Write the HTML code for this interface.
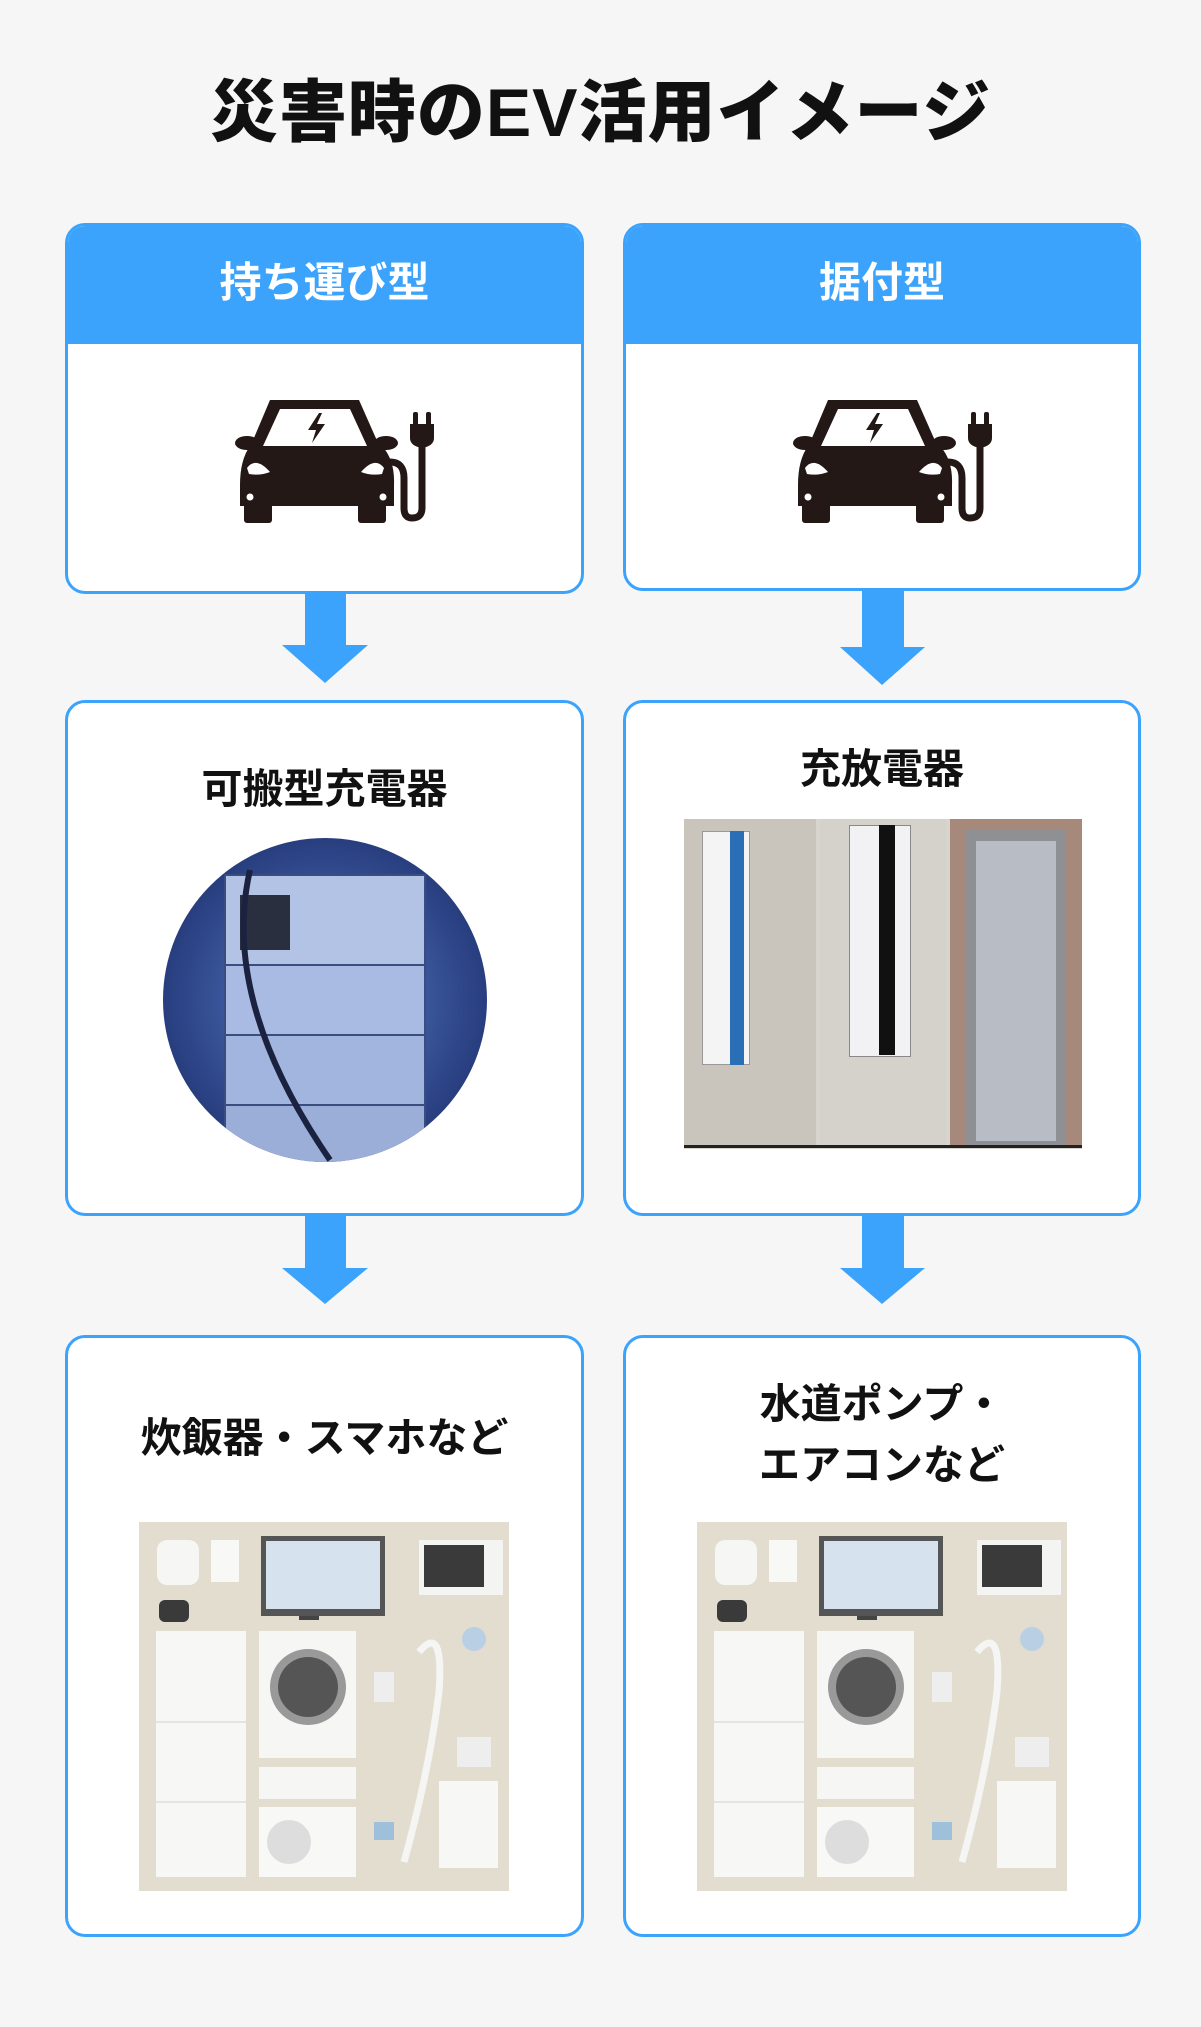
<!DOCTYPE html>
<html><head><meta charset="utf-8"><style>
*{margin:0;padding:0;box-sizing:border-box}
body{width:1201px;height:2027px;background:#f6f6f6;position:relative;overflow:hidden;font-family:"Liberation Sans","Noto Sans CJK JP",sans-serif;font-weight:bold;color:#111}
.abs{position:absolute}
.box{position:absolute;background:#fff;border:3px solid #3ba3fc;border-radius:20px;overflow:hidden}
.hdr{position:absolute;left:0;top:0;right:0;height:118px;background:#3ba3fc;color:#fff;font-size:42px;text-align:center;line-height:114px}
.t{position:absolute;left:0;right:0;text-align:center;font-size:41px;line-height:60px}
.title{position:absolute;left:0;width:1201px;top:68px;text-align:center;font-size:68px;letter-spacing:1px;line-height:90px;font-weight:900}
</style></head><body>
<div class="title">災害時のEV活用イメージ</div>

<div class="box" style="left:65px;top:223px;width:519px;height:371px"><div class="hdr">持ち運び型</div></div>
<div class="box" style="left:623px;top:223px;width:518px;height:368px"><div class="hdr">据付型</div></div>

<svg class="abs" style="left:0;top:0" width="1201" height="2027">
<defs>
<g id="car">
<path d="M50 10 H139 L162 62 H28 Z" fill="#231815"/>
<path d="M60 19 H130 L147 56 H43 Z" fill="#fff"/>
<path d="M99 23 L88 40 H96 L92 53 L105 34 H97 L102 23Z" fill="#231815"/>
<ellipse cx="27" cy="53" rx="12" ry="7" fill="#231815"/>
<ellipse cx="166" cy="53" rx="12" ry="7" fill="#231815"/>
<path d="M30 56 H162 Q175 70 174 95 V116 H20 V95 Q20 70 30 56Z" fill="#231815"/>
<rect x="24" y="105" width="28" height="28" rx="3" fill="#231815"/>
<rect x="138" y="105" width="28" height="28" rx="3" fill="#231815"/>
<path d="M27 78 Q36 66 50 82 Q40 86 29 84Z" fill="#fff"/>
<path d="M164 78 Q155 66 141 82 Q151 86 162 84Z" fill="#fff"/>
<circle cx="30" cy="107" r="3.5" fill="#fff"/>
<circle cx="163" cy="107" r="3.5" fill="#fff"/>
<path d="M170 72 Q184 72 184 88 V118 Q184 128 192 128 Q202 128 202 118 V55" fill="none" stroke="#231815" stroke-width="7"/>
<path d="M190 34 H214 V48 Q214 56 202 58 Q190 56 190 48Z" fill="#231815"/>
<rect x="193" y="22" width="5" height="14" rx="2" fill="#231815"/>
<rect x="206" y="22" width="5" height="14" rx="2" fill="#231815"/>
</g>
<clipPath id="cc"><ellipse cx="325" cy="1000" rx="162" ry="162"/></clipPath>
<radialGradient id="bg1" cx="0.5" cy="0.5" r="0.6"><stop offset="0" stop-color="#5a7ec8"/><stop offset="1" stop-color="#1c2f6e"/></radialGradient>
</defs>
<use href="#car" x="220" y="390"/>
<use href="#car" x="778" y="390"/>
<g fill="#3ba3fc">
<rect x="305" y="594" width="41" height="52"/><polygon points="282,645 368,645 325,683"/>
<rect x="862" y="590" width="42" height="58"/><polygon points="840,647 925,647 882,685"/>
<rect x="305" y="1215" width="41" height="54"/><polygon points="282,1268 368,1268 325,1304"/>
<rect x="862" y="1215" width="42" height="54"/><polygon points="840,1268 925,1268 882,1304"/>
</g>
</svg>

<div class="box" style="left:65px;top:700px;width:519px;height:516px"><div class="t" style="top:56px">可搬型充電器</div></div>
<div class="box" style="left:623px;top:700px;width:518px;height:516px"><div class="t" style="top:36px">充放電器</div>
<div class="abs" style="left:58px;top:116px;width:398px;height:330px;background:#d8d5cf">
 <div class="abs" style="left:0;top:0;width:132px;height:328px;background:#c9c5bd"></div>
 <div class="abs" style="left:18px;top:12px;width:48px;height:234px;background:#f4f4f4;border:1px solid #999"></div>
 <div class="abs" style="left:46px;top:12px;width:14px;height:234px;background:#2a6fb5"></div>
 <div class="abs" style="left:136px;top:0;width:126px;height:328px;background:#d5d2cc"></div>
 <div class="abs" style="left:165px;top:6px;width:62px;height:232px;background:#f2f2f4;border:1px solid #888"></div>
 <div class="abs" style="left:195px;top:6px;width:16px;height:230px;background:#111"></div>
 <div class="abs" style="left:266px;top:0;width:132px;height:328px;background:#a6897a"></div>
 <div class="abs" style="left:282px;top:10px;width:100px;height:318px;background:#8e9094"></div>
 <div class="abs" style="left:292px;top:22px;width:80px;height:300px;background:#b8bcc4"></div>
 <div class="abs" style="left:0;top:326px;width:398px;height:3px;background:#222"></div>
</div></div>

<svg class="abs" style="left:0;top:0" width="1201" height="2027">
<g clip-path="url(#cc)">
<rect x="160" y="835" width="330" height="330" fill="url(#bg1)"/>
<rect x="225" y="875" width="200" height="90" fill="#b3c3e6" stroke="#3a4d80" stroke-width="2"/>
<rect x="225" y="965" width="200" height="70" fill="#a9bbe2" stroke="#3a4d80" stroke-width="2"/>
<rect x="225" y="1035" width="200" height="70" fill="#a2b5de" stroke="#3a4d80" stroke-width="2"/>
<rect x="225" y="1105" width="200" height="60" fill="#9aaed8" stroke="#3a4d80" stroke-width="2"/>
<rect x="240" y="895" width="50" height="55" fill="#2a2f40"/>
<path d="M250 870 Q220 1000 330 1160" fill="none" stroke="#1a2240" stroke-width="6"/>
</g>
</svg>

<div class="box" style="left:65px;top:1335px;width:519px;height:602px"><div class="t" style="top:70px">炊飯器・スマホなど</div></div>
<div class="box" style="left:623px;top:1335px;width:518px;height:602px"><div class="t" style="top:36px;line-height:61px">水道ポンプ・<br>エアコンなど</div></div>

<svg class="abs" style="left:0;top:0" width="1201" height="2027">
<defs>
<clipPath id="ac"><rect x="0" y="0" width="370" height="369"/></clipPath>
<g id="app" clip-path="url(#ac)">
<rect x="0" y="0" width="370" height="369" fill="#e2ddcf"/>
<rect x="18" y="18" width="42" height="45" rx="10" fill="#f6f6f4"/>
<rect x="72" y="18" width="28" height="42" fill="#f8f8f6"/>
<rect x="122" y="14" width="124" height="80" fill="#555"/>
<rect x="127" y="19" width="114" height="68" fill="#d6e2ee"/>
<rect x="280" y="18" width="84" height="55" fill="#f4f4f2"/>
<rect x="285" y="23" width="60" height="42" fill="#3a3a3a"/>
<rect x="20" y="78" width="30" height="22" rx="6" fill="#3a3a3a"/>
<rect x="160" y="94" width="20" height="4" fill="#444"/>
<rect x="17" y="109" width="90" height="246" fill="#f7f7f5"/>
<line x1="17" y1="200" x2="107" y2="200" stroke="#e4e4e0" stroke-width="2"/>
<line x1="17" y1="280" x2="107" y2="280" stroke="#e4e4e0" stroke-width="2"/>
<rect x="120" y="109" width="97" height="127" fill="#f6f6f4"/>
<circle cx="169" cy="165" r="38" fill="#999"/><circle cx="169" cy="165" r="30" fill="#555"/>
<rect x="120" y="245" width="97" height="32" fill="#f6f6f4"/>
<rect x="120" y="285" width="97" height="70" fill="#f8f8f6"/>
<circle cx="150" cy="320" r="22" fill="#ddd"/>
<path d="M265 340 Q290 250 300 170 Q305 100 280 130" fill="none" stroke="#f5f5f3" stroke-width="7"/>
<rect x="300" y="259" width="59" height="87" fill="#f7f7f5"/>
<rect x="318" y="215" width="34" height="30" fill="#eee"/>
<circle cx="335" cy="117" r="12" fill="#b9d0e4"/>
<rect x="235" y="150" width="20" height="30" fill="#eee"/>
<rect x="235" y="300" width="20" height="18" fill="#9fc0da"/>
</g>
</defs>
<use href="#app" x="139" y="1522"/>
<use href="#app" x="697" y="1522"/>
</svg>
</body></html>
